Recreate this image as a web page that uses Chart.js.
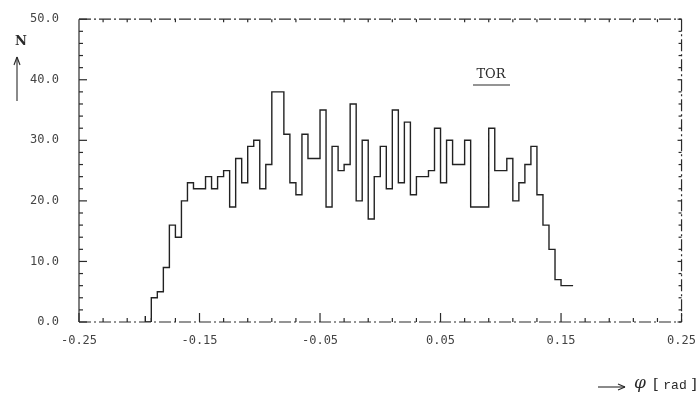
<!DOCTYPE html>
<html>
<head>
<meta charset="utf-8">
<script src="https://cdn.jsdelivr.net/npm/chart.js@4/dist/chart.umd.min.js"></script>
<style>
  html, body { margin: 0; padding: 0; background: #fff; }
</style>
</head>
<body>
<canvas id="histChart" width="700" height="403"></canvas>
<script>
// Histogram bin edges (rad); last entry closes the last bin
const binEdges = [
    -0.195, -0.19, -0.185, -0.18, -0.175, -0.17, -0.165, -0.16, -0.155, -0.15,
    -0.145, -0.14, -0.135, -0.13, -0.125, -0.12, -0.115, -0.11, -0.105, -0.10,
    -0.095, -0.09, -0.085, -0.08, -0.075, -0.07, -0.065, -0.06, -0.055, -0.05,
    -0.045, -0.04, -0.035, -0.03, -0.025, -0.02, -0.015, -0.01, -0.005, 0.0,
    0.005, 0.01, 0.015, 0.02, 0.025, 0.03, 0.035, 0.04, 0.045, 0.05,
    0.055, 0.06, 0.065, 0.07, 0.075, 0.08, 0.085, 0.09, 0.095, 0.10,
    0.105, 0.11, 0.115, 0.12, 0.125, 0.13, 0.135, 0.14, 0.145, 0.15,
    0.155, 0.16
];

// Counts N per bin
const counts = [
    1, 0, 4, 5, 9, 16, 14, 20, 23, 22,
    22, 24, 22, 24, 25, 19, 27, 23, 29, 30,
    22, 26, 38, 38, 31, 23, 21, 31, 27, 27,
    35, 19, 29, 25, 26, 36, 20, 30, 17, 24,
    29, 22, 35, 23, 33, 21, 24, 24, 25, 32,
    23, 30, 26, 26, 30, 19, 19, 19, 32, 25,
    25, 27, 20, 23, 26, 29, 21, 16, 12, 7,
    6
];

// Axis ticks
const xMajorTicks = [-0.25, -0.15, -0.05, 0.05, 0.15, 0.25];
const xMinorTicks = [-0.23, -0.21, -0.19, -0.17, -0.13, -0.11, -0.09, -0.07, -0.03, -0.01,
    0.01, 0.03, 0.07, 0.09, 0.11, 0.13, 0.17, 0.19, 0.21, 0.23];
const yMajorTicks = [0, 10, 20, 30, 40, 50];
const yMinorTicks = [2, 4, 6, 8, 12, 14, 16, 18, 22, 24, 26, 28, 32, 34, 36, 38, 42, 44, 46, 48];

const ink = '#2a2a2a';
const labelFont = { family: '"DejaVu Sans Mono", monospace', size: 12 };

// step points: value of a bin held until the next edge
const points = binEdges.map((e, i) => ({ x: e, y: counts[Math.min(i, counts.length - 1)] }));

function line(ctx, x1, y1, x2, y2) {
    ctx.beginPath();
    ctx.moveTo(x1, y1);
    ctx.lineTo(x2, y2);
    ctx.stroke();
}

// Frame, inward ticks and free text
const framePlugin = {
    id: 'frame',
    afterDraw(chart) {
        const { ctx, chartArea: a, scales: { x, y } } = chart;
        ctx.save();
        ctx.strokeStyle = ink;
        ctx.lineWidth = 1.2;

        // left axis solid
        line(ctx, a.left, a.top, a.left, a.bottom);
        // others dash-dot
        ctx.setLineDash([12, 3, 2, 3]);
        line(ctx, a.left, a.bottom, a.right, a.bottom);
        line(ctx, a.left, a.top, a.right, a.top);
        line(ctx, a.right, a.top, a.right, a.bottom);
        ctx.setLineDash([]);

        // x ticks (pointing up)
        xMajorTicks.forEach(v => {
            const px = x.getPixelForValue(v);
            line(ctx, px, a.bottom, px, a.bottom - 9);
        });
        xMinorTicks.forEach(v => {
            const px = x.getPixelForValue(v);
            line(ctx, px, a.bottom, px, a.bottom - 4);
            line(ctx, px, a.top, px, a.top + 3);
        });
        // y ticks (pointing right on left, left on right)
        yMajorTicks.forEach(v => {
            const py = y.getPixelForValue(v);
            line(ctx, a.left, py, a.left + 8, py);
            line(ctx, a.right, py, a.right - 4, py);
        });
        yMinorTicks.forEach(v => {
            const py = y.getPixelForValue(v);
            line(ctx, a.left, py, a.left + 4, py);
            line(ctx, a.right, py, a.right - 3, py);
        });

        ctx.fillStyle = ink;
        ctx.lineWidth = 1.1;

        // N with up arrow
        ctx.font = 'bold 13px "DejaVu Serif", serif';
        ctx.textAlign = 'center';
        ctx.textBaseline = 'middle';
        ctx.fillText('N', 21, 42);
        line(ctx, 17, 101, 17, 57);
        line(ctx, 17, 57, 14, 65);
        line(ctx, 17, 57, 20, 65);

        // TOR label with underline
        ctx.font = '13px "DejaVu Serif", serif';
        ctx.fillText('TOR', 491, 75);
        line(ctx, 473, 85, 510, 85);

        // x axis title
        line(ctx, 598, 387, 625, 387);
        line(ctx, 625, 387, 618, 384);
        line(ctx, 625, 387, 618, 390);
        ctx.font = 'italic 17px "DejaVu Serif", serif';
        ctx.fillText('\u03c6', 640, 384);
        ctx.font = '15px "DejaVu Serif", serif';
        ctx.fillText('[', 656, 385);
        ctx.font = '13px "Liberation Mono", monospace';
        ctx.fillText('rad', 675, 386);
        ctx.font = '15px "DejaVu Serif", serif';
        ctx.fillText(']', 694, 385);
        ctx.restore();
    }
};

const ctx = document.getElementById('histChart').getContext('2d');
new Chart(ctx, {
    type: 'line',
    data: {
        datasets: [{
            data: points,
            stepped: 'after',
            borderColor: '#222',
            borderWidth: 1.4,
            pointRadius: 0,
            fill: false
        }]
    },
    options: {
        responsive: false,
        animation: false,
        layout: { padding: { top: 10, right: 18, left: 0, bottom: 0 } },
        plugins: { legend: { display: false }, tooltip: { enabled: false } },
        scales: {
            x: {
                type: 'linear',
                min: -0.25,
                max: 0.25,
                afterBuildTicks: s => { s.ticks = xMajorTicks.map(v => ({ value: v })); },
                afterFit: s => { s.height = 81; },
                grid: { display: false },
                border: { display: false },
                ticks: {
                    callback: v => v.toFixed(2),
                    font: labelFont,
                    color: '#444',
                    padding: 4,
                    maxRotation: 0,
                    autoSkip: false
                }
            },
            y: {
                min: 0,
                max: 50,
                afterBuildTicks: s => { s.ticks = yMajorTicks.map(v => ({ value: v })); },
                afterFit: s => { s.width = 79; },
                grid: { display: false },
                border: { display: false },
                ticks: {
                    callback: v => v.toFixed(1),
                    font: labelFont,
                    color: '#444',
                    padding: 12
                }
            }
        }
    },
    plugins: [framePlugin]
});
</script>
</body>
</html>
